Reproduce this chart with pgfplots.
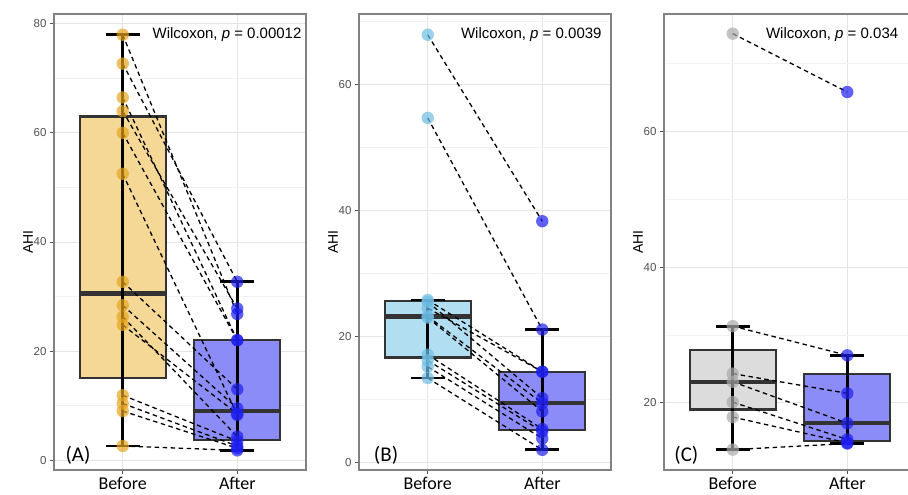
\documentclass[border=0pt]{standalone}
\usepackage{fontspec}
\setmainfont{Liberation Sans}
\newfontfamily\carlito{Carlito}
\usepackage{pgfplots}
\usepackage{pgfplotstable}
\pgfplotsset{compat=1.18}

\definecolor{boxedge}{RGB}{51,51,51}
\definecolor{fillA}{RGB}{245,216,150}
\definecolor{fillB}{RGB}{178,222,242}
\definecolor{fillC}{RGB}{220,220,220}
\definecolor{fillAfter}{RGB}{140,140,248}
\definecolor{ptA}{RGB}{230,165,30}
\definecolor{ptB}{RGB}{110,190,230}
\definecolor{ptC}{RGB}{170,170,170}
\definecolor{ptAfter}{RGB}{30,30,240}
\definecolor{gridmaj}{RGB}{228,228,228}
\definecolor{gridmin}{RGB}{242,242,242}
\definecolor{bordercol}{RGB}{130,130,130}
\definecolor{ticklab}{RGB}{80,80,80}

% paired AHI values: b = before, a = after
\pgfplotstableread{
b     a
78.0  26.8
72.7  32.7
66.5  22.0
64.0  27.8
60.0  22.0
52.5  8.3
32.7  13.0
28.4  9.5
26.3  4.3
24.8  8.5
11.9  3.5
10.4  2.6
9.0   2.2
2.6   1.8
}\pairsA
\pgfplotstableread{
b     a
67.9  38.3
54.7  21.1
25.8  14.4
25.5  10.2
24.5  14.4
23.2  9.4
23.0  8.1
17.1  5.3
16.2  4.9
15.2  3.8
13.4  2.0
}\pairsB
\pgfplotstableread{
b     a
74.4  65.8
31.3  27.0
24.3  21.4
23.1  17.0
20.1  14.6
17.9  14.1
13.1  14.0
}\pairsC

\tikzset{
  stat/.style={anchor=west, font=\fontsize{15}{17}\selectfont},
  tag/.style={anchor=west, font=\carlito\fontsize{21}{23}\selectfont},
}
\pgfplotsset{
  panel/.style={
    anchor=south west, scale only axis, width=252pt, height=456pt,
    xmin=0.4, xmax=2.6, xtick={1,2}, xticklabels={Before,After},
    grid=both,
    major grid style={color=gridmaj, line width=0.9pt},
    minor grid style={color=gridmin, line width=0.6pt},
    axis line style={draw=bordercol, line width=1.3pt},
    tick pos=left, tick align=outside, major tick length=4pt,
    minor tick length=0pt,
    tick style={color=ticklab, line width=0.9pt},
    /pgf/number format/assume math mode=true,
    yticklabel style={font=\fontsize{11.5}{13}\selectfont, text=ticklab},
    xticklabel style={font=\carlito\fontsize{18}{20}\selectfont, text=black},
    every axis y label/.style={at={(axis description cs:-0.103,0.5)},
      rotate=90, anchor=center, font=\fontsize{14}{16}\selectfont},
    ylabel={AHI},
  },
  whisk/.style={black, line width=2.8pt, forget plot},
  pair/.style={black, line width=1.3pt, dash pattern=on 4.5pt off 3.5pt,
    quiver={u=1, v=\thisrow{a}-\thisrow{b}}},
  pts/.style={only marks, mark=*, mark size=6.2pt,
    mark options={draw opacity=0, fill=#1, fill opacity=0.7}},
}

% box: x-left, x-right, lower quartile, median, upper quartile, fill
\newcommand\bbox[6]{%
  \addplot[fill=#6, draw=boxedge, line width=2.3pt, line join=miter]
    coordinates {(#1,#3) (#2,#3) (#2,#5) (#1,#5)} -- cycle;
  \addplot[draw=boxedge, line width=4.5pt] coordinates {(#1,#4) (#2,#4)};
}
% whisker with caps: x-left, x, x-right, low, high
\newcommand\whisk[5]{%
  \addplot[whisk] coordinates {(#2,#4) (#2,#5)};
  \addplot[whisk] coordinates {(#1,#4) (#3,#4)};
  \addplot[whisk] coordinates {(#1,#5) (#3,#5)};
}

\begin{document}
\begin{tikzpicture}
\useasboundingbox (0,0) rectangle (908pt,495pt);
\clip (0,0) rectangle (908pt,495pt);

% ---------- (A) ----------
\begin{axis}[panel, at={(54pt,25pt)}, ymin=-1.8, ymax=81.8,
  ytick={0,20,40,60,80}, minor ytick={10,30,50,70}]
  \bbox{0.625}{1.375}{15.1}{30.55}{63}{fillA}
  \bbox{1.625}{2.375}{3.7}{9.0}{22}{fillAfter}
  \whisk{0.85}{1}{1.15}{2.6}{78}
  \whisk{1.85}{2}{2.15}{1.8}{32.7}
  \addplot[pts=ptA] table[x expr=1, y=b] {\pairsA};
  \addplot[pts=ptAfter] table[x expr=2, y=a] {\pairsA};
  \addplot[pair] table[x expr=1, y=b] {\pairsA};
  \node[stat] at (axis cs:1.23,78.1) {Wilcoxon, \textit{p} = 0.00012};
  \node[tag] at (axis cs:0.47,0.9) {(A)};
\end{axis}

% ---------- (B) ----------
\begin{axis}[panel, at={(359pt,25pt)}, ymin=-1.2, ymax=71.2,
  ytick={0,20,40,60}, minor ytick={10,30,50,70}]
  \bbox{0.625}{1.375}{16.65}{23.2}{25.65}{fillB}
  \bbox{1.625}{2.375}{5.1}{9.4}{14.4}{fillAfter}
  \whisk{0.85}{1}{1.15}{13.4}{25.8}
  \whisk{1.85}{2}{2.15}{2.0}{21.1}
  \addplot[pts=ptB] table[x expr=1, y=b] {\pairsB};
  \addplot[pts=ptAfter] table[x expr=2, y=a] {\pairsB};
  \addplot[pair] table[x expr=1, y=b] {\pairsB};
  \node[stat] at (axis cs:1.26,67.9) {Wilcoxon, \textit{p} = 0.0039};
  \node[tag] at (axis cs:0.5,1.2) {(B)};
\end{axis}

% ---------- (C) ----------
\begin{axis}[panel, at={(664pt,25pt)}, ymin=10.1, ymax=77.3,
  ytick={20,40,60}, minor ytick={30,50,70}]
  \bbox{0.625}{1.375}{19.0}{23.1}{27.8}{fillC}
  \bbox{1.625}{2.375}{14.35}{17.0}{24.2}{fillAfter}
  \whisk{0.85}{1}{1.15}{13.1}{31.3}
  \whisk{1.85}{2}{2.15}{14.0}{27.0}
  \addplot[pts=ptC] table[x expr=1, y=b] {\pairsC};
  \addplot[pts=ptAfter] table[x expr=2, y=a] {\pairsC};
  \addplot[pair] table[x expr=1, y=b] {\pairsC};
  \node[stat] at (axis cs:1.26,74.2) {Wilcoxon, \textit{p} = 0.034};
  \node[tag] at (axis cs:0.46,12.3) {(C)};
\end{axis}
\end{tikzpicture}
\end{document}
